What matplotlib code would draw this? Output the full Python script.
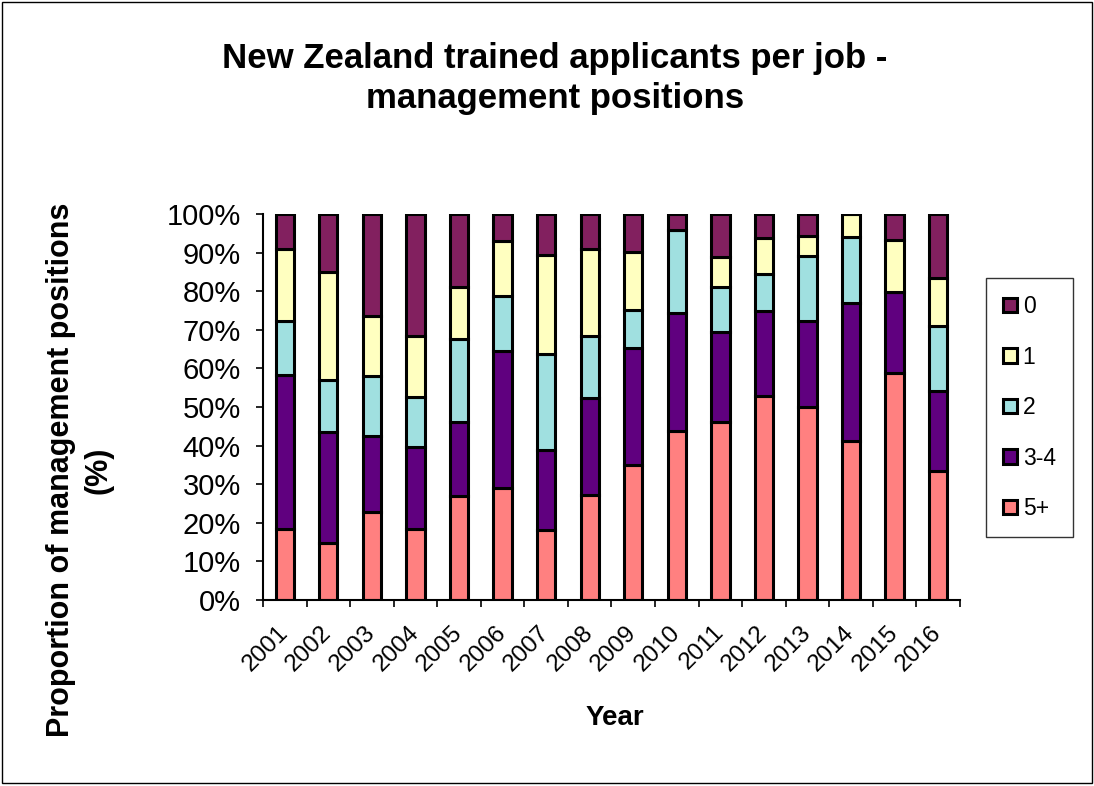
import matplotlib.pyplot as plt
import matplotlib.transforms as mtransforms
import numpy as np

# Data: share of management positions by number of NZ-trained applicants (%)
years = ['2001', '2002', '2003', '2004', '2005', '2006', '2007', '2008',
         '2009', '2010', '2011', '2012', '2013', '2014', '2015', '2016']
five_plus = [18.4, 14.9, 22.7, 18.4, 26.9, 28.9, 18.2, 27.3,
             35.0, 43.7, 46.0, 52.9, 49.9, 41.1, 58.7, 33.5]
three_four = [39.9, 28.7, 19.7, 21.2, 19.1, 35.7, 20.7, 25.0,
              30.3, 30.6, 23.5, 22.1, 22.3, 35.8, 21.0, 20.7]
two = [13.9, 13.4, 15.6, 13.1, 21.6, 14.1, 24.8, 16.0,
       9.9, 21.6, 11.7, 9.5, 17.0, 17.2, 0.0, 16.9]
one = [18.7, 27.9, 15.7, 15.6, 13.4, 14.2, 25.8, 22.6,
       14.9, 0.0, 7.6, 9.2, 5.2, 5.9, 13.6, 12.3]
zero = [9.1, 15.1, 26.3, 31.7, 19.0, 7.1, 10.5, 9.1,
        9.9, 4.1, 11.2, 6.3, 5.6, 0.0, 6.7, 16.6]

series_names = ['5+', '3-4', '2', '1', '0']
series_vals = [five_plus, three_four, two, one, zero]
series_cols = ['#FF8080', '#60007F', '#A0E0E0', '#FFFFC0', '#82205F']

plt.rcParams['font.family'] = ['Liberation Sans', 'DejaVu Sans']

fig = plt.figure(figsize=(10.94, 7.86), dpi=100)
ax = fig.add_axes([0.2404, 0.2366, 0.6371, 0.4911])

x = np.arange(len(years))
bottom = np.zeros(len(years))
handles = []
for name, vals, col in zip(series_names, series_vals, series_cols):
    v = np.array(vals)
    b = ax.bar(x, v, width=0.42, bottom=bottom, color=col,
               edgecolor='black', linewidth=2.2, label=name)
    handles.append(b)
    bottom += v

ax.set_xlim(-0.5, len(years) - 0.5)
ax.set_ylim(0, 100)
ax.set_yticks(np.arange(0, 101, 10))
ax.set_yticklabels([f'{t}%' for t in range(0, 101, 10)], fontsize=21)
ax.set_xticks(np.arange(-0.5, len(years), 1), minor=False)
ax.set_xticklabels([])
ax.set_xticks(x, minor=True)
ax.set_xticklabels(years, minor=True, rotation=45, ha='right', va='center',
                   rotation_mode='anchor', fontsize=17.5)
shift = mtransforms.ScaledTranslation(9 / 72, 0, fig.dpi_scale_trans)
for lab in ax.get_xticklabels(minor=True):
    lab.set_transform(lab.get_transform() + shift)
ax.tick_params(axis='x', which='minor', length=0, pad=21)
ax.tick_params(axis='x', which='major', length=5, width=1.2, direction='out')
ax.tick_params(axis='y', length=5, width=1.2, direction='out', pad=11)

for s in ['top', 'right']:
    ax.spines[s].set_visible(False)
for s in ['left', 'bottom']:
    ax.spines[s].set_linewidth(1.5)

ax.set_xlabel('Year', fontsize=20, fontweight='bold')
ax.xaxis.set_label_coords(0.505, -0.272)
ax.set_ylabel('Proportion of management positions\n(%)', fontsize=22,
              fontweight='bold', linespacing=1.3)
ax.yaxis.set_label_coords(-0.215, 0.337)

fig.text(0.507, 0.9, 'New Zealand trained applicants per job -\nmanagement positions',
         fontsize=25, fontweight='bold', ha='center', va='center',
         linespacing=1.27)

leg = ax.legend(handles[::-1], series_names[::-1], loc='upper left',
                bbox_to_anchor=(986 / 1094, 1 - 278 / 786),
                bbox_transform=fig.transFigure, borderaxespad=0,
                fontsize=16.5, frameon=True, fancybox=False,
                edgecolor='black', handlelength=0.6, handleheight=0.6,
                labelspacing=1.2, borderpad=0.75, handletextpad=0.25)
leg.get_frame().set_linewidth(1.0)

# outer border of the chart area
fig.patches.append(plt.Rectangle((0.002, 0.004), 0.996, 0.993,
                                 transform=fig.transFigure, fill=False,
                                 edgecolor='black', linewidth=1.0))

fig.savefig('out.png', dpi=100)
